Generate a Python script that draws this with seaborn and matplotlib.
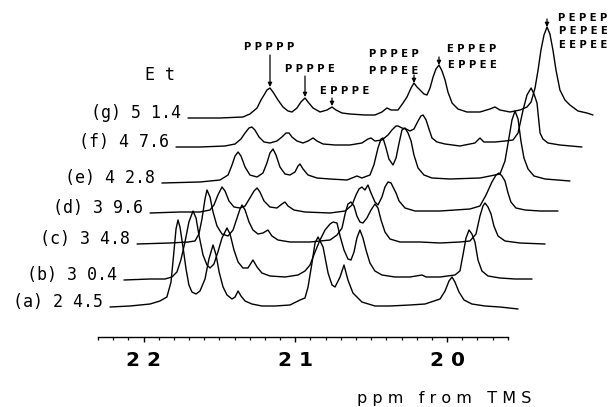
import numpy as np
import pandas as pd
import matplotlib
matplotlib.use("Agg")
import matplotlib.pyplot as plt
import seaborn as sns

# ---------------- data ----------------
samples = ["a", "b", "c", "d", "e", "f", "g"]
et_content = ["2 4.5", "3 0.4", "3 4.8", "3 9.6", "4 2.8", "4 7.6", "5 1.4"]

ppm_a = [22.221, 22.089, 21.957, 21.892, 21.846, 21.819, 21.800, 21.786, 21.773, 21.760, 21.740, 21.720,
         21.701, 21.681, 21.654, 21.628, 21.595, 21.569, 21.542, 21.522, 21.502, 21.476, 21.450, 21.417,
         21.397, 21.377, 21.358, 21.331, 21.286, 21.220, 21.134, 21.035, 20.969, 20.936, 20.916, 20.890,
         20.870, 20.850, 20.830, 20.817, 20.784, 20.758, 20.738, 20.705, 20.679, 20.653, 20.620, 20.561,
         20.475, 20.376, 20.244, 20.145, 20.046, 20.013, 19.987, 19.967, 19.948, 19.921, 19.888, 19.836,
         19.750, 19.651, 19.532]
int_a = [0, 1, 3, 6, 10, 25, 55, 78, 87, 80, 60, 38,
         22, 15, 13, 16, 28, 48, 62, 52, 35, 20, 12, 8,
         10, 16, 11, 6, 3, 1, 1, 2, 7, 9, 20, 44,
         64, 70, 64, 60, 34, 22, 20, 30, 42, 27, 14, 5,
         1, 1, 2, 3, 8, 16, 26, 30, 25, 15, 7, 3,
         1, 0, -2]

ppm_b = [22.129, 21.957, 21.859, 21.813, 21.780, 21.754, 21.727, 21.701, 21.674, 21.654, 21.635, 21.608,
         21.582, 21.562, 21.536, 21.510, 21.483, 21.450, 21.430, 21.404, 21.377, 21.345, 21.312, 21.279,
         21.252, 21.220, 21.167, 21.068, 20.982, 20.936, 20.903, 20.870, 20.837, 20.804, 20.771, 20.751,
         20.725, 20.705, 20.679, 20.653, 20.633, 20.613, 20.594, 20.574, 20.554, 20.534, 20.508, 20.475,
         20.429, 20.343, 20.244, 20.165, 20.138, 20.046, 19.948, 19.915, 19.895, 19.875, 19.855, 19.836,
         19.816, 19.796, 19.770, 19.730, 19.651, 19.552, 19.440]
int_b = [0, 1, 1, 3, 8, 20, 38, 58, 69, 62, 45, 25,
         15, 12, 16, 28, 42, 52, 46, 30, 18, 12, 12, 20,
         13, 7, 4, 3, 5, 9, 15, 28, 40, 50, 56, 58,
         57, 44, 30, 21, 20, 28, 42, 50, 42, 30, 17, 9,
         5, 3, 3, 5, 3, 3, 5, 9, 25, 42, 50, 46,
         38, 20, 9, 4, 2, 1, 1]

ppm_c = [22.043, 21.826, 21.707, 21.661, 21.635, 21.615, 21.595, 21.582, 21.562, 21.542, 21.516, 21.483,
         21.443, 21.410, 21.384, 21.364, 21.351, 21.331, 21.305, 21.279, 21.246, 21.213, 21.180, 21.154,
         21.114, 21.035, 20.903, 20.771, 20.725, 20.692, 20.672, 20.653, 20.633, 20.613, 20.594, 20.574,
         20.554, 20.528, 20.501, 20.475, 20.455, 20.435, 20.409, 20.376, 20.310, 20.178, 20.046, 19.915,
         19.849, 19.809, 19.783, 19.763, 19.750, 19.730, 19.710, 19.691, 19.664, 19.618, 19.519, 19.354]
int_c = [0, 1, 2, 3, 10, 25, 45, 54, 47, 32, 18, 10,
         8, 14, 26, 35, 39, 34, 22, 14, 10, 11, 14, 8,
         4, 2, 2, 4, 9, 16, 30, 40, 42, 38, 28, 22,
         21, 26, 34, 40, 36, 24, 12, 5, 2, 2, 1, 2,
         3, 10, 28, 38, 41, 37, 30, 18, 8, 3, 1, 0]

ppm_d = [21.957, 21.760, 21.628, 21.562, 21.536, 21.510, 21.483, 21.463, 21.437, 21.404, 21.364, 21.331,
         21.299, 21.272, 21.252, 21.233, 21.206, 21.167, 21.121, 21.088, 21.068, 21.048, 21.009, 20.936,
         20.771, 20.672, 20.626, 20.600, 20.580, 20.561, 20.541, 20.521, 20.501, 20.475, 20.455, 20.429,
         20.409, 20.389, 20.369, 20.356, 20.336, 20.316, 20.277, 20.211, 20.046, 19.849, 19.783, 19.743,
         19.704, 19.677, 19.658, 19.638, 19.618, 19.598, 19.579, 19.546, 19.486, 19.387, 19.269]
int_d = [0, 1, 1, 3, 8, 18, 26, 22, 12, 6, 5, 7,
         15, 22, 25, 21, 12, 6, 5, 9, 11, 7, 3, 1,
         0, 2, 8, 18, 24, 26, 23, 28, 20, 11, 8, 16,
         26, 31, 30, 26, 20, 12, 5, 2, 2, 4, 7, 18,
         31, 38, 40, 37, 32, 20, 11, 5, 3, 2, 2]

ppm_e = [21.879, 21.628, 21.496, 21.443, 21.417, 21.397, 21.377, 21.358, 21.331, 21.299, 21.252, 21.213,
         21.187, 21.167, 21.147, 21.127, 21.101, 21.068, 21.035, 21.002, 20.982, 20.969, 20.949, 20.916,
         20.857, 20.771, 20.659, 20.626, 20.594, 20.561, 20.508, 20.482, 20.455, 20.435, 20.422, 20.402,
         20.383, 20.356, 20.336, 20.316, 20.297, 20.277, 20.257, 20.237, 20.218, 20.191, 20.152, 20.099,
         19.981, 19.783, 19.651, 19.618, 19.592, 19.572, 19.552, 19.532, 19.513, 19.493, 19.466, 19.427,
         19.354, 19.190]
int_e = [0, 1, 3, 8, 18, 27, 31, 27, 16, 8, 6, 10,
         20, 30, 34, 28, 16, 9, 8, 11, 17, 19, 14, 8,
         5, 4, 3, 5, 7, 5, 8, 18, 35, 44, 45, 35,
         24, 18, 25, 40, 53, 55, 50, 42, 28, 15, 8, 5,
         4, 5, 9, 22, 45, 63, 72, 64, 42, 25, 14, 7,
         4, 2]

ppm_f = [21.786, 21.628, 21.463, 21.397, 21.358, 21.331, 21.305, 21.286, 21.266, 21.239, 21.206, 21.167,
         21.121, 21.088, 21.061, 21.041, 21.022, 20.989, 20.949, 20.916, 20.883, 20.857, 20.817, 20.738,
         20.640, 20.561, 20.521, 20.501, 20.475, 20.429, 20.389, 20.363, 20.336, 20.323, 20.297, 20.270,
         20.244, 20.218, 20.191, 20.172, 20.158, 20.138, 20.119, 20.099, 20.066, 20.013, 19.915, 19.816,
         19.783, 19.757, 19.684, 19.618, 19.565, 19.532, 19.499, 19.473, 19.446, 19.427, 19.407, 19.387,
         19.368, 19.335, 19.256, 19.111]
int_f = [0, 0, 1, 3, 8, 14, 19, 20, 17, 10, 5, 4,
         6, 10, 14, 14, 10, 6, 4, 6, 9, 6, 3, 2,
         2, 4, 8, 9, 6, 7, 12, 17, 21, 21, 19, 18,
         16, 18, 26, 31, 32, 27, 18, 9, 5, 3, 1, 4,
         9, 5, 5, 6, 7, 14, 37, 52, 59, 53, 44, 14,
         8, 4, 2, 0]

ppm_g = [21.707, 21.496, 21.345, 21.299, 21.252, 21.226, 21.206, 21.187, 21.167, 21.147, 21.114, 21.081,
         21.048, 21.022, 20.989, 20.963, 20.936, 20.916, 20.883, 20.837, 20.791, 20.758, 20.732, 20.692,
         20.640, 20.541, 20.475, 20.429, 20.396, 20.369, 20.323, 20.290, 20.264, 20.237, 20.218, 20.198,
         20.178, 20.152, 20.132, 20.112, 20.092, 20.073, 20.053, 20.033, 20.013, 19.994, 19.967, 19.928,
         19.869, 19.783, 19.717, 19.684, 19.651, 19.585, 19.519, 19.473, 19.446, 19.420, 19.400, 19.381,
         19.361, 19.341, 19.322, 19.302, 19.282, 19.256, 19.223, 19.190, 19.137, 19.078, 19.038]
int_g = [0, 0, 1, 4, 10, 18, 23, 28, 30, 26, 18, 11,
         7, 6, 10, 16, 20, 16, 10, 6, 8, 11, 8, 5,
         4, 3, 3, 6, 10, 8, 8, 15, 21, 30, 35, 31,
         28, 24, 23, 30, 41, 49, 53, 47, 38, 26, 15, 9,
         6, 6, 9, 11, 8, 6, 8, 11, 16, 30, 48, 68,
         83, 91, 84, 68, 48, 28, 18, 13, 7, 5, 3]

# peak assignment labels
ann_single = ["PPPPP", "PPPPE", "EPPPE"]
ann_pair1 = ["PPPEP", "PPPEE"]
ann_pair2 = ["EPPEP", "EPPEE"]
ann_triple = ["PEPEP", "PEPEE", "EEPEE"]

axis_ticks = [22, 21, 20]
axis_ticklabels = ["2 2", "2 1", "2 0"]

# ---------------- layout / style ----------------
W, H = 610, 407
stack_offset = {"a": 30, "b": 57, "c": 93, "d": 124, "e": 154, "f": 190, "g": 219}

ppm_lists = [ppm_a, ppm_b, ppm_c, ppm_d, ppm_e, ppm_f, ppm_g]
int_lists = [int_a, int_b, int_c, int_d, int_e, int_f, int_g]

rows = []
for s, xs, ys in zip(samples, ppm_lists, int_lists):
    for x, y in zip(xs, ys):
        rows.append({"sample": s, "ppm": x, "y": y + stack_offset[s]})
df = pd.DataFrame(rows)

sns.set_style("white")
plt.rcParams["font.family"] = ["DejaVu Sans"]

fig = plt.figure(figsize=(W / 100, H / 100), dpi=100)
ax = fig.add_axes([0, 70 / H, 1, 337 / H])
ax.patch.set_alpha(0)

sns.lineplot(data=df, x="ppm", y="y", units="sample", estimator=None, sort=False,
             color="black", linewidth=1.0, legend=False, ax=ax)

ax.set_xlim(22.946, 18.926)
ax.set_ylim(0, 337)
ax.set_xlabel("")
ax.set_ylabel("")
ax.set_yticks([])
for side in ["left", "right", "top"]:
    ax.spines[side].set_visible(False)
ax.spines["bottom"].set_visible(True)
ax.spines["bottom"].set_color("black")
ax.spines["bottom"].set_linewidth(1.0)
ax.spines["bottom"].set_bounds(22.30, 19.60)

ax.set_xticks(axis_ticks)
ax.set_xticklabels(axis_ticklabels)
ax.set_xticks(np.round(np.arange(19.6, 22.31, 0.1), 2), minor=True)
ax.tick_params(axis="x", which="major", direction="out", length=3.8, width=1.0,
               color="black", pad=6, labelsize=14.5, labelcolor="black", bottom=True)
ax.tick_params(axis="x", which="minor", direction="out", length=2.2, width=0.9,
               color="black", bottom=True)
for lab in ax.get_xticklabels():
    lab.set_fontweight("bold")

# sample labels, placed just left of each trace
for s, et, xs in zip(samples, et_content, ppm_lists):
    ax.text(xs[0] + 0.045, stack_offset[s] + 5, f"({s}) {et}", ha="right", va="center",
            fontsize=12, family="DejaVu Sans Mono", color="black")


def fp(px, py):
    return (px, H - py)


fig.text(160 / W, 1 - 75 / H, "E t", ha="center", va="center", fontsize=12,
         family="DejaVu Sans Mono", color="black")
fig.text(444 / W, 1 - 399 / H, "p p m   f r o m   T M S", ha="center", va="center",
         fontsize=11.5, color="black")

ann_kw = dict(ha="center", va="center", fontsize=7.2, fontweight="bold", color="black")


def spaced(t):
    return " ".join(t)


arrow = dict(arrowstyle="-|>", lw=0.9, color="black", mutation_scale=6, shrinkA=0, shrinkB=0)

# single labels with arrows
ann_text_pos = [(269, 47), (310, 69), (345, 91)]
ann_arrows = [((270, 55), (270, 87)), ((305, 76), (305, 97)), ((332, 98), (332, 106))]
for t, tp, (a0, a1) in zip(ann_single, ann_text_pos, ann_arrows):
    fig.text(tp[0] / W, 1 - tp[1] / H, spaced(t), **ann_kw)
    ax.annotate("", xy=fp(*a1), xytext=fp(*a0), xycoords="figure pixels",
                textcoords="figure pixels", arrowprops=arrow)

for t, py in zip(ann_pair1, [54, 71]):
    fig.text(394 / W, 1 - py / H, spaced(t), **ann_kw)
ax.annotate("", xy=fp(414, 83), xytext=fp(414, 75), xycoords="figure pixels",
            textcoords="figure pixels", arrowprops=arrow)

for t, py in zip(ann_pair2, [49, 65]):
    fig.text(472 / W, 1 - py / H, spaced(t), **ann_kw)
ax.annotate("", xy=fp(439, 65), xytext=fp(439, 57), xycoords="figure pixels",
            textcoords="figure pixels", arrowprops=arrow)

for t, py in zip(ann_triple, [18, 31, 45]):
    fig.text(583 / W, 1 - py / H, spaced(t), **ann_kw)
ax.annotate("", xy=fp(547, 27), xytext=fp(547, 19), xycoords="figure pixels",
            textcoords="figure pixels", arrowprops=arrow)

fig.savefig("out.png", dpi=100, facecolor="white")
